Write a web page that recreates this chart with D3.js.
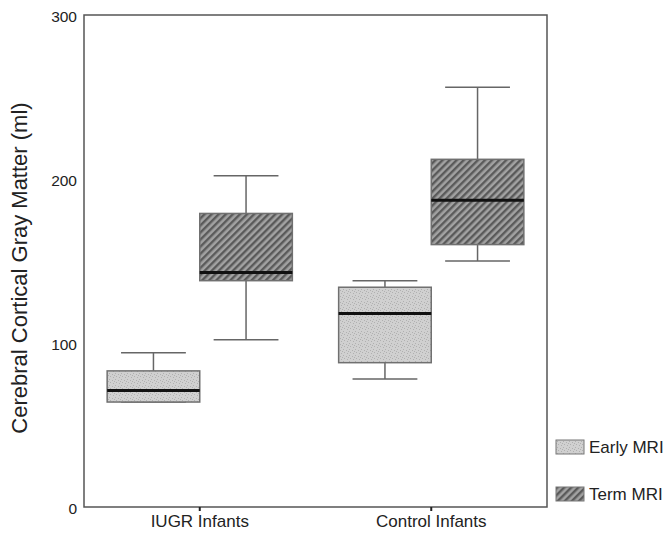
<!DOCTYPE html>
<html>
<head>
<meta charset="utf-8">
<script src="https://cdn.jsdelivr.net/npm/d3@7"></script>
<style>
  body { margin: 0; background: #fff; }
  text { font-family: "Liberation Sans", Arial, sans-serif; fill: #222; }
</style>
</head>
<body>
<div id="chart"></div>
<script>
// groups and series
let groups = ["IUGR Infants", "Control Infants"];
let series = ["Early MRI", "Term MRI"];
let yTicks = [0, 100, 200, 300];

// box stats: [min, q1, median, q3, max]
let iugrEarly = [64, 64, 71, 83, 94];
let iugrTerm = [102, 138, 143, 179, 202];
let controlEarly = [78, 88, 118, 134, 138];
let controlTerm = [150, 160, 187, 212, 256];

let stats = [
  {group: groups[0], s: series[0], v: iugrEarly},
  {group: groups[0], s: series[1], v: iugrTerm},
  {group: groups[1], s: series[0], v: controlEarly},
  {group: groups[1], s: series[1], v: controlTerm}
];

let width = 667, height = 536;
let mLeft = 84, mRight = 547, mTop = 15, mBottom = 507;

let svg = d3.select("#chart").append("svg")
  .attr("width", width)
  .attr("height", height);

let defs = svg.append("defs");

// stippled light gray for early
let pEarly = defs.append("pattern")
  .attr("id", "early")
  .attr("patternUnits", "userSpaceOnUse")
  .attr("width", 6).attr("height", 6);
pEarly.append("rect").attr("width", 6).attr("height", 6).attr("fill", "#d0d0d0");
[[1,1],[4,2],[2,4],[5,5],[0,3]].forEach(function(p) {
  pEarly.append("rect").attr("x", p[0]).attr("y", p[1])
    .attr("width", 1).attr("height", 1).attr("fill", "#b0b0b0");
});

// diagonal hatch for term
let pTerm = defs.append("pattern")
  .attr("id", "term")
  .attr("patternUnits", "userSpaceOnUse")
  .attr("width", 5).attr("height", 5)
  .attr("patternTransform", "rotate(45)");
pTerm.append("rect").attr("width", 5).attr("height", 5).attr("fill", "#a2a2a2");
pTerm.append("rect").attr("x", 0).attr("width", 2.4).attr("height", 5).attr("fill", "#5a5a5a");

let fill = d3.scaleOrdinal().domain(series).range(["url(#early)", "url(#term)"]);

let y = d3.scaleLinear().domain([0, 300]).range([mBottom, mTop]);

let x0 = d3.scaleBand().domain(groups).range([mLeft, mRight]);
let boxW = x0.bandwidth() * 0.4;
let x1 = d3.scaleBand().domain(series).range([0, boxW * 2]);

function cx(d) { return x0(d.group) + x0.bandwidth() / 2 - boxW + x1(d.s); }

// frame
svg.append("rect")
  .attr("x", mLeft).attr("y", mTop)
  .attr("width", mRight - mLeft).attr("height", mBottom - mTop)
  .attr("fill", "none")
  .attr("stroke", "#555")
  .attr("stroke-width", 1.5);

// y axis labels
let yAxis = svg.append("g")
  .attr("transform", "translate(" + (mLeft - 5) + ",0)")
  .call(d3.axisLeft(y).tickValues(yTicks).tickSize(0).tickPadding(2));
yAxis.select(".domain").remove();
yAxis.selectAll("text").style("font-size", "15.5px").attr("dy", "0.45em");

// x axis
let xAxis = svg.append("g")
  .attr("transform", "translate(0," + mBottom + ")")
  .call(d3.axisBottom(x0).tickSize(4).tickPadding(4));
xAxis.select(".domain").remove();
xAxis.selectAll("line").attr("stroke", "#222").attr("stroke-width", 2);
xAxis.selectAll("text").style("font-size", "17px");

// y title
svg.append("text")
  .attr("transform", "translate(27,268) rotate(-90)")
  .attr("text-anchor", "middle")
  .style("font-size", "22px")
  .text("Cerebral Cortical Gray Matter (ml)");

// boxes
let box = svg.append("g").selectAll("g")
  .data(stats)
  .enter()
  .append("g");

let capW = boxW * 0.7;

box.append("line")
  .attr("x1", d => cx(d) + boxW / 2).attr("x2", d => cx(d) + boxW / 2)
  .attr("y1", d => y(d.v[0])).attr("y2", d => y(d.v[4]))
  .attr("stroke", "#666").attr("stroke-width", 1.5);

box.selectAll(".cap")
  .data(d => [d, d].map((e, i) => ({d: e, v: i ? e.v[4] : e.v[0]})))
  .enter()
  .append("line")
  .attr("x1", e => cx(e.d) + (boxW - capW) / 2)
  .attr("x2", e => cx(e.d) + (boxW + capW) / 2)
  .attr("y1", e => y(e.v)).attr("y2", e => y(e.v))
  .attr("stroke", "#666").attr("stroke-width", 1.5);

box.append("rect")
  .attr("x", d => cx(d))
  .attr("y", d => y(d.v[3]))
  .attr("width", boxW)
  .attr("height", d => y(d.v[1]) - y(d.v[3]))
  .attr("fill", d => fill(d.s))
  .attr("stroke", "#707070")
  .attr("stroke-width", 1.5);

box.append("line")
  .attr("x1", d => cx(d)).attr("x2", d => cx(d) + boxW)
  .attr("y1", d => y(d.v[2])).attr("y2", d => y(d.v[2]))
  .attr("stroke", "#111").attr("stroke-width", 3);

// legend
let legend = svg.append("g").selectAll("g")
  .data(series)
  .enter()
  .append("g")
  .attr("transform", (d, i) => "translate(556," + (440 + i * 47) + ")");

legend.append("rect")
  .attr("width", 28).attr("height", 14)
  .attr("fill", d => fill(d))
  .attr("stroke", "#777").attr("stroke-width", 1);

legend.append("text")
  .attr("x", 33).attr("y", 7).attr("dy", "0.35em")
  .style("font-size", "17px")
  .text(d => d);
</script>
</body>
</html>
